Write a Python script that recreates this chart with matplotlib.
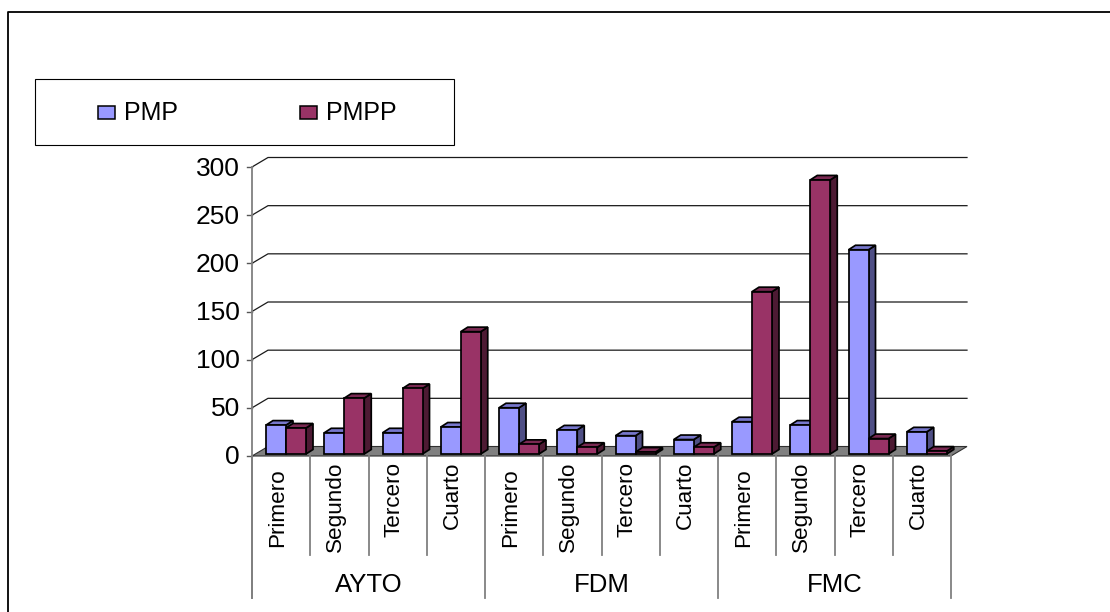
import matplotlib
matplotlib.use("Agg")
import matplotlib.pyplot as plt
from matplotlib.patches import Polygon, Rectangle

plt.rcParams['font.family'] = ['Liberation Sans', 'DejaVu Sans']

groups = ["AYTO", "FDM", "FMC"]
quarters = ["Primero", "Segundo", "Tercero", "Cuarto"]
series_names = ["PMP", "PMPP"]
pmp = [30, 22, 22, 28, 48, 25, 19, 15, 33.5, 30, 212, 23]
pmpp = [27, 58, 68, 127, 10, 7, 2, 7, 168.5, 284.5, 16, 3]
y_ticks = [0, 50, 100, 150, 200, 250, 300]

FACE = {"PMP": "#9999FF", "PMPP": "#993366"}
TOP = {"PMP": "#7777CC", "PMPP": "#7A2952"}
SIDE = {"PMP": "#4F4F85", "PMPP": "#4D1A33"}
W, H = 1110, 612
DPI = 100

fig = plt.figure(figsize=(W / DPI, H / DPI), dpi=DPI, facecolor="white")


def fx(p):
    return p / W


def fy(p):
    return 1 - p / H


# figure-level frame and legend (the frame runs off the right and bottom edges)
bg = fig.add_axes([0, 0, 1, 1], zorder=0)
bg.set_xlim(0, W)
bg.set_ylim(H, 0)
bg.axis("off")
bg.plot([8, 8, W + 5], [H + 5, 12, 12], color="black", lw=1.3, clip_on=False)
bg.add_patch(Rectangle((35, 79), 419, 66, fc="white", ec="black", lw=0.8))
for name, bx, tx in [("PMP", 97.5, 124), ("PMPP", 300, 326)]:
    bg.add_patch(Rectangle((bx, 105.5), 17, 13, fc=FACE[name], ec="black", lw=1.1))
    bg.text(tx, 113, name, fontsize=18, va="center", ha="left", color="black")

# plot axes: front plane of the chart
L, R, B, T = 252, 951, 456, 167
ax = fig.add_axes([fx(L), fy(B), (R - L) / W, (B - T) / H], zorder=1)
ax.set_xlim(0, 12)
ax.set_ylim(0, 300)
ax.axis("off")

px = 12 / (R - L)          # data units per pixel, x
py = 300 / (B - T)         # data units per pixel, y
fdx, fdy = 16 * px, 9.5 * py   # floor depth
kw = dict(clip_on=False)

# floor
ax.add_patch(Polygon([(0, 0), (fdx, fdy), (12 + fdx, fdy), (12, 0)], closed=True,
                     fc="#808080", ec="#303030", lw=0.8, zorder=2, **kw))

# gridlines (diagonal + back wall), ticks and labels
for v in y_ticks:
    if v > 0:
        ax.plot([0, fdx, 12 + fdx], [v, v + fdy, v + fdy], color="#1a1a1a", lw=0.9, zorder=1, **kw)
    ax.plot([-5 * px, 0], [v, v], color="#555555", lw=1.0, zorder=1, **kw)
    ax.text(-12 * px, v - 1.5 * py, str(v), ha="right", va="center", fontsize=19, color="black", **kw)

# y axis and multi-level category separators
ax.plot([0, 0], [300, -142 * py], color="#808080", lw=1.3, zorder=3, **kw)
for i in range(13):
    bottom = -142 * py if i % 4 == 0 else -99 * py
    ax.plot([i, i], [0, bottom], color="#808080", lw=1.3, zorder=3, **kw)

# 3-D bars
bw = 20 * px
ddx, ddy = 7 * px, 4.5 * py
base = 2 * py
for i in range(12):
    for j, (name, vals) in enumerate(zip(series_names, [pmp, pmpp])):
        x0 = i + 14 * px + j * bw
        v = vals[i]
        top = base + v
        z = 4 + i * 2 + j * 0.5
        ax.add_patch(Polygon([(x0 + bw, base), (x0 + bw + ddx, base + ddy),
                              (x0 + bw + ddx, top + ddy), (x0 + bw, top)], closed=True,
                             fc=SIDE[name], ec="black", lw=1.25, zorder=z, **kw))
        ax.add_patch(Polygon([(x0, top), (x0 + ddx, top + ddy),
                              (x0 + bw + ddx, top + ddy), (x0 + bw, top)], closed=True,
                             fc=TOP[name], ec="black", lw=1.25, zorder=z, **kw))
        ax.bar(x0, v, width=bw, bottom=base, align="edge", color=FACE[name], edgecolor="black",
               linewidth=1.25, zorder=z + 0.1, clip_on=False)

# category labels: hung from a common line, "Primero" sits a little lower
for i in range(12):
    label = quarters[i % 4]
    drop = 12.5 if label == "Primero" else 5.5
    ax.text(i + 0.44, -drop * py, label, rotation=90, ha="center", va="top",
            fontsize=16.2, color="black", **kw)
for g, name in enumerate(groups):
    ax.text(g * 4 + 2, -129.5 * py, name, ha="center", va="center", fontsize=18.5, color="black", **kw)

fig.savefig("out.png", dpi=DPI, facecolor="white")
